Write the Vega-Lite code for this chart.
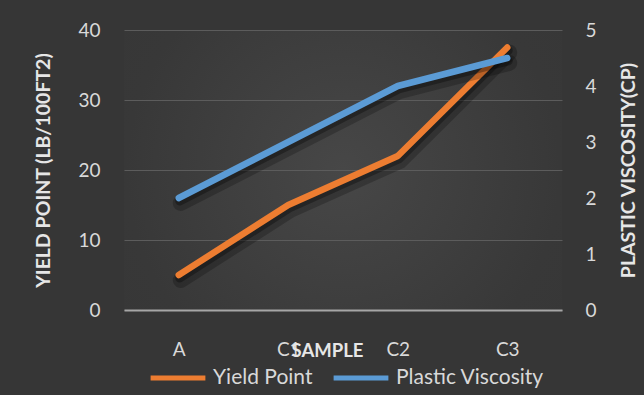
{
  "$schema": "https://vega.github.io/schema/vega-lite/v6.json",
  "width": 438,
  "height": 280,
  "autosize": {"type": "none"},
  "padding": {"left": 124, "top": 30, "right": 82, "bottom": 85},
  "background": "#363636",
  "config": {
    "font": "Lato",
    "view": {
      "stroke": null,
      "fill": {
        "gradient": "radial",
        "x1": 0.5, "y1": 0.5, "r1": 0,
        "x2": 0.5, "y2": 0.5, "r2": 0.75,
        "stops": [
          {"offset": 0, "color": "#474747"},
          {"offset": 0.66, "color": "#383838"},
          {"offset": 1, "color": "#363636"}
        ]
      }
    },
    "axis": {
      "labelColor": "#d9d9d9",
      "titleColor": "#e6e6e6",
      "labelFont": "Lato",
      "titleFont": "Lato",
      "labelFontSize": 19,
      "titleFontSize": 19.5,
      "titleFontWeight": "bold",
      "ticks": false,
      "domain": false,
      "grid": false
    },
    "legend": {
      "labelColor": "#d9d9d9",
      "labelFont": "Lato",
      "labelFontSize": 21
    }
  },
  "data": {
    "values": [
      {"sample": "A", "yield_point": 5, "plastic_viscosity": 2},
      {"sample": "C1", "yield_point": 15, "plastic_viscosity": 3},
      {"sample": "C2", "yield_point": 22, "plastic_viscosity": 4},
      {"sample": "C3", "yield_point": 37.5, "plastic_viscosity": 4.5}
    ]
  },
  "encoding": {
    "x": {
      "field": "sample",
      "type": "nominal",
      "sort": null,
      "scale": {"type": "point", "padding": 0.5},
      "axis": {
        "title": "SAMPLE",
        "labelAngle": 0,
        "labelPadding": 30,
        "domain": true,
        "domainColor": "#a6a6a6",
        "domainWidth": 2,
        "titleX": 203,
        "titleY": 46,
        "titleBaseline": "alphabetic",
        "titleFontSize": 18.5
      }
    }
  },
  "layer": [
    {
      "encoding": {
        "y": {
          "field": "yield_point",
          "type": "quantitative",
          "scale": {"domain": [0, 40]},
          "axis": {
            "orient": "left",
            "title": "YIELD POINT (LB/100FT2)",
            "tickCount": 5,
            "grid": true,
            "gridColor": "#5c5c5c",
            "gridWidth": 1,
            "labelPadding": 24,
            "titleAngle": 270,
            "titleX": -81,
            "titleY": 140,
            "titleAlign": "center",
            "titleBaseline": "middle"
          }
        }
      },
      "layer": [
        {
          "mark": {"type": "line", "color": "#000000", "opacity": 0.22, "strokeWidth": 16, "strokeCap": "round", "strokeJoin": "round", "yOffset": 5, "xOffset": 2}
        },
        {
          "mark": {"type": "line", "color": "#000000", "opacity": 0.3, "strokeWidth": 9, "strokeCap": "round", "strokeJoin": "round", "yOffset": 3, "xOffset": 1}
        },
        {
          "mark": {"type": "line", "strokeWidth": 6.5, "strokeCap": "round", "strokeJoin": "round"},
          "encoding": {
            "color": {
              "datum": "Yield Point",
              "scale": {"domain": ["Yield Point", "Plastic Viscosity"], "range": ["#ed7d31", "#5b9bd5"]},
              "legend": {
                "orient": "none",
                "legendX": 24,
                "legendY": 318,
                "direction": "horizontal",
                "title": null,
                "symbolType": "stroke",
                "symbolSize": 3000,
                "symbolStrokeWidth": 5,
                "labelOffset": 5,
                "columnPadding": 10
              }
            }
          }
        }
      ]
    },
    {
      "encoding": {
        "y": {
          "field": "plastic_viscosity",
          "type": "quantitative",
          "scale": {"domain": [0, 5]},
          "axis": {
            "orient": "right",
            "title": "PLASTIC VISCOSITY(CP)",
            "tickCount": 6,
            "labelPadding": 23,
            "titleAngle": 270,
            "titleX": 66,
            "titleY": 140,
            "titleAlign": "center",
            "titleBaseline": "middle"
          }
        }
      },
      "layer": [
        {
          "mark": {"type": "line", "color": "#000000", "opacity": 0.22, "strokeWidth": 16, "strokeCap": "round", "strokeJoin": "round", "yOffset": 5, "xOffset": 2}
        },
        {
          "mark": {"type": "line", "color": "#000000", "opacity": 0.3, "strokeWidth": 9, "strokeCap": "round", "strokeJoin": "round", "yOffset": 3, "xOffset": 1}
        },
        {
          "mark": {"type": "line", "strokeWidth": 6.5, "strokeCap": "round", "strokeJoin": "round"},
          "encoding": {"color": {"datum": "Plastic Viscosity"}}
        }
      ]
    }
  ],
  "resolve": {"scale": {"y": "independent"}}
}
